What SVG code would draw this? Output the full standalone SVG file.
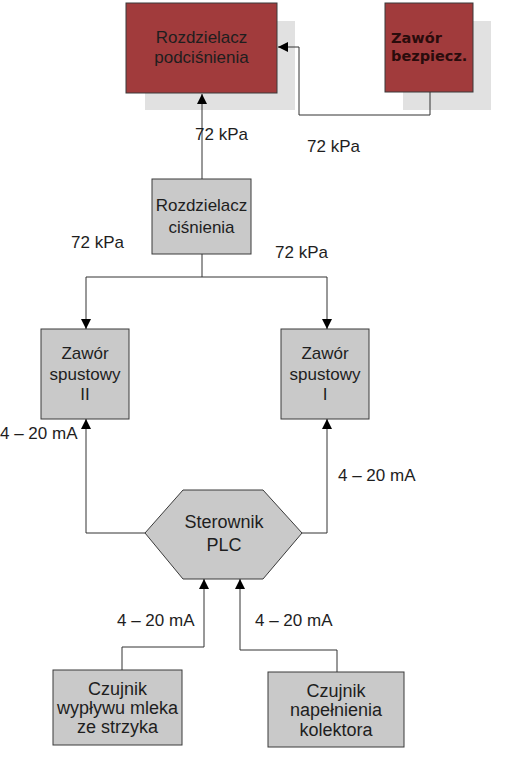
<svg xmlns="http://www.w3.org/2000/svg" width="513" height="759" viewBox="0 0 513 759">
<defs>
<style>
.t{font-family:"Liberation Sans",Arial,sans-serif;font-size:17px;fill:#1e1e1e;text-anchor:middle}
.tl{font-family:"Liberation Sans",Arial,sans-serif;font-size:18px;fill:#1e1e1e;text-anchor:middle}
.l{font-family:"Liberation Sans",Arial,sans-serif;font-size:17px;fill:#1e1e1e}
.b{font-family:"DejaVu Sans",Verdana,sans-serif;font-size:14.5px;font-weight:bold;fill:#2a0c0c}
.red{fill:#a13b3c;stroke:#3a3a3a;stroke-width:1}
.gray{fill:#c9c9c9;stroke:#3a3a3a;stroke-width:1}
.sh{fill:#e1e1e1}
.c{fill:none;stroke:#333;stroke-width:1}
</style>
<marker id="ah" viewBox="0 0 10 10" refX="10" refY="5" markerWidth="10" markerHeight="10" markerUnits="userSpaceOnUse" orient="auto">
<path d="M0,0 L10,5 L0,10 z" fill="#000"/>
</marker>
</defs>
<rect width="513" height="759" fill="#fff"/>

<g id="rozdzielacz-podcisnienia">
<rect class="sh" x="145" y="21" width="150" height="89"/>
<rect class="red" x="126" y="3" width="151" height="90"/>
<text class="t" x="201.5" y="43">Rozdzielacz</text>
<text class="t" x="201.5" y="63">podciśnienia</text>
</g>

<g id="zawor-bezpiecz">
<rect class="sh" x="403" y="21" width="88" height="89"/>
<rect class="red" x="385" y="3" width="88" height="89"/>
<text class="b" x="391" y="43">Zawór</text>
<text class="b" x="391" y="61">bezpiecz.</text>
</g>

<g id="rozdzielacz-cisnienia">
<rect class="gray" x="152" y="179" width="99" height="75"/>
<text class="t" x="201.5" y="211">Rozdzielacz</text>
<text class="t" x="201.5" y="233">ciśnienia</text>
</g>

<g id="zawor-spustowy-2">
<rect class="gray" x="41" y="329" width="88" height="90"/>
<text class="t" x="85" y="359">Zawór</text>
<text class="t" x="85" y="379.5">spustowy</text>
<text class="t" x="85" y="400">II</text>
</g>

<g id="zawor-spustowy-1">
<rect class="gray" x="281" y="329" width="88" height="90"/>
<text class="t" x="325" y="359">Zawór</text>
<text class="t" x="325" y="379.5">spustowy</text>
<text class="t" x="325" y="400">I</text>
</g>

<g id="sterownik-plc">
<polygon class="gray" points="183,490 263,490 302,533 263,579 183,579 145,533"/>
<text class="tl" x="224" y="528">Sterownik</text>
<text class="tl" x="224" y="551">PLC</text>
</g>

<g id="czujnik-wyplywu">
<rect class="gray" x="53" y="670" width="129" height="75"/>
<text class="tl" x="117.5" y="695">Czujnik</text>
<text class="tl" x="117.5" y="714">wypływu mleka</text>
<text class="tl" x="117.5" y="733">ze strzyka</text>
</g>

<g id="czujnik-napelnienia">
<rect class="gray" x="268" y="672" width="136" height="75"/>
<text class="tl" x="336" y="697">Czujnik</text>
<text class="tl" x="336" y="716">napełnienia</text>
<text class="tl" x="336" y="736">kolektora</text>
</g>

<g id="connectors">
<path class="c" d="M202,179 V94" marker-end="url(#ah)"/>
<path class="c" d="M430,92 V115 H299 V47 H278" marker-end="url(#ah)"/>
<path class="c" d="M202,254 V277"/>
<path class="c" d="M202,277 H86 V329" marker-end="url(#ah)"/>
<path class="c" d="M202,277 H327 V329" marker-end="url(#ah)"/>
<path class="c" d="M145,533 H86 V419" marker-end="url(#ah)"/>
<path class="c" d="M302,533 H327 V419" marker-end="url(#ah)"/>
<path class="c" d="M122,670 V647 H204 V579" marker-end="url(#ah)"/>
<path class="c" d="M337,672 V650 H240 V579" marker-end="url(#ah)"/>
</g>

<g id="labels">
<text class="l" x="195" y="140">72 kPa</text>
<text class="l" x="307" y="152">72 kPa</text>
<text class="l" x="71" y="248">72 kPa</text>
<text class="l" x="275" y="258">72 kPa</text>
<text class="l" x="0" y="439">4 – 20 mA</text>
<text class="l" x="338" y="481">4 – 20 mA</text>
<text class="l" x="117" y="626">4 – 20 mA</text>
<text class="l" x="255" y="626">4 – 20 mA</text>
</g>
</svg>
